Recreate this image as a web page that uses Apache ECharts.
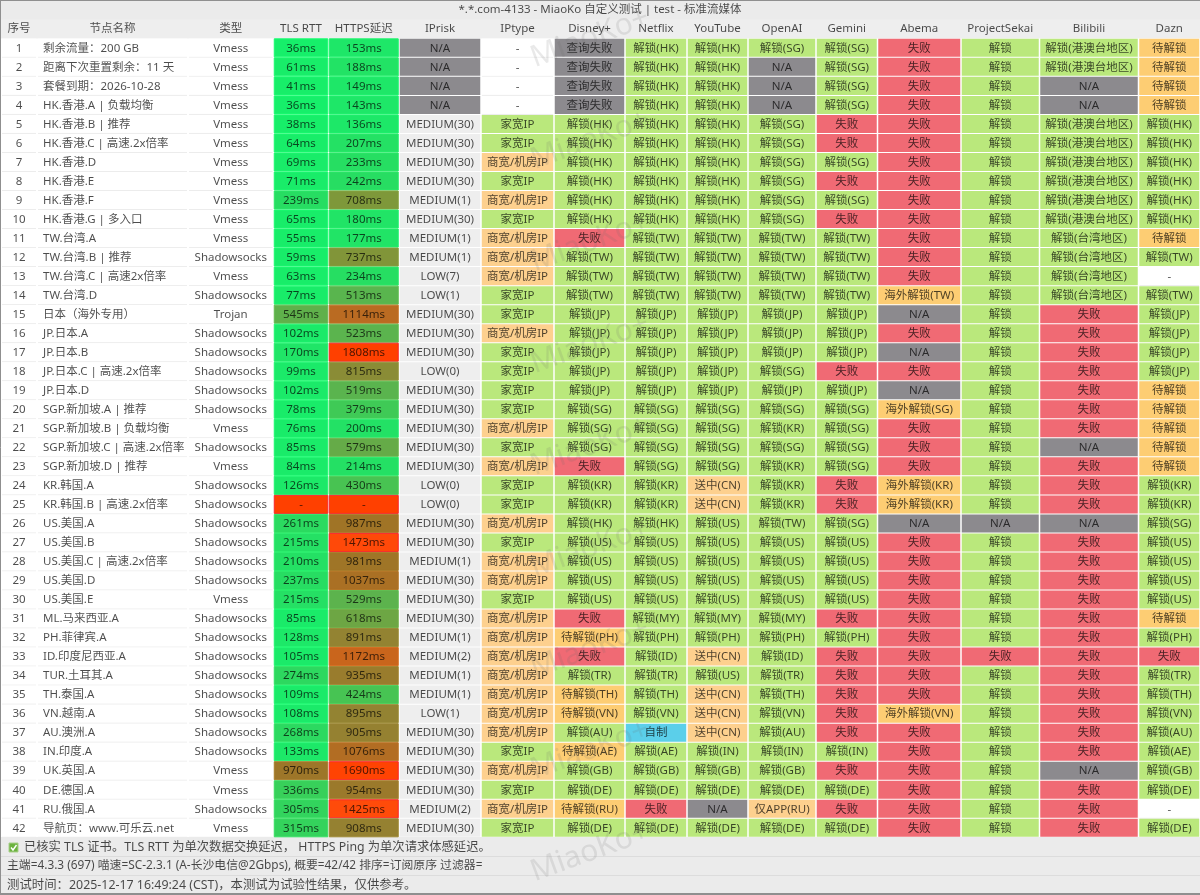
<!DOCTYPE html>
<html>
<head>
<meta charset="utf-8">
<title>MiaoKo</title>
<style>
html, body { margin: 0; padding: 0; background: #ebebeb; }
#box01 { width: 1200px; height: 895px; }
</style>
<script src="https://cdn.jsdelivr.net/npm/echarts@6/dist/echarts.min.js"></script>
</head>
<body>
<div id="box01"></div>
<script>
var titleText = '*.*.com-4133 - MiaoKo 自定义测试 | test - 标准流媒体';
var headers = ['序号', '节点名称', '类型', 'TLS RTT', 'HTTPS延迟', 'IPrisk', 'IPtype', 'Disney+', 'Netflix', 'YouTube', 'OpenAI', 'Gemini', 'Abema', 'ProjectSekai', 'Bilibili', 'Dazn'];
var rowNo = [1, 2, 3, 4, 5, 6, 7, 8, 9, 10, 11, 12, 13, 14, 15, 16, 17, 18, 19, 20, 21, 22, 23, 24, 25, 26, 27, 28, 29, 30, 31, 32, 33, 34, 35, 36, 37, 38, 39, 40, 41, 42];
var nodeNames = ['剩余流量：200 GB', '距离下次重置剩余：11 天', '套餐到期：2026-10-28', 'HK.香港.A | 负载均衡', 'HK.香港.B | 推荐', 'HK.香港.C | 高速.2x倍率', 'HK.香港.D', 'HK.香港.E', 'HK.香港.F', 'HK.香港.G | 多入口',
    'TW.台湾.A', 'TW.台湾.B | 推荐', 'TW.台湾.C | 高速2x倍率', 'TW.台湾.D', '日本（海外专用）', 'JP.日本.A', 'JP.日本.B', 'JP.日本.C | 高速.2x倍率', 'JP.日本.D', 'SGP.新加坡.A | 推荐',
    'SGP.新加坡.B | 负载均衡', 'SGP.新加坡.C | 高速.2x倍率', 'SGP.新加坡.D | 推荐', 'KR.韩国.A', 'KR.韩国.B | 高速.2x倍率', 'US.美国.A', 'US.美国.B', 'US.美国.C | 高速.2x倍率', 'US.美国.D', 'US.美国.E',
    'ML.马来西亚.A', 'PH.菲律宾.A', 'ID.印度尼西亚.A', 'TUR.土耳其.A', 'TH.泰国.A', 'VN.越南.A', 'AU.澳洲.A', 'IN.印度.A', 'UK.英国.A', 'DE.德国.A', 'RU.俄国.A', '导航页：www.可乐云.net'];
var nodeTypes = ['Vmess', 'Vmess', 'Vmess', 'Vmess', 'Vmess', 'Vmess', 'Vmess', 'Vmess', 'Vmess', 'Vmess', 'Vmess', 'Shadowsocks', 'Vmess', 'Shadowsocks', 'Trojan', 'Shadowsocks', 'Shadowsocks', 'Shadowsocks', 'Shadowsocks', 'Shadowsocks', 'Vmess',
    'Shadowsocks', 'Vmess', 'Shadowsocks', 'Shadowsocks', 'Shadowsocks', 'Shadowsocks', 'Shadowsocks', 'Shadowsocks', 'Vmess', 'Shadowsocks', 'Shadowsocks', 'Shadowsocks', 'Shadowsocks', 'Shadowsocks', 'Shadowsocks', 'Shadowsocks', 'Shadowsocks', 'Vmess', 'Vmess', 'Shadowsocks', 'Vmess'];
// 延迟，null 为未测出
var tlsRtt = [36, 61, 41, 36, 38, 64, 69, 71, 239, 65, 55, 59, 63, 77, 545, 102, 170, 99, 102, 78, 76, 85, 84, 126, null, 261, 215, 210, 237, 215, 85, 128, 105, 274, 109, 108, 268, 133, 970, 336, 305, 315];
var httpsDelay = [153, 188, 149, 143, 136, 207, 233, 242, 708, 180, 177, 737, 234, 513, 1114, 523, 1808, 815, 519, 379, 200, 579, 214, 430, null, 987, 1473, 981, 1037, 529, 618, 891, 1172, 935, 424, 895, 905, 1076, 1690, 954, 1425, 908];
var ipRisk = ['N/A', 'N/A', 'N/A', 'N/A', 'MEDIUM(30)', 'MEDIUM(30)', 'MEDIUM(30)', 'MEDIUM(30)', 'MEDIUM(1)', 'MEDIUM(30)', 'MEDIUM(1)', 'MEDIUM(1)', 'LOW(7)', 'LOW(1)', 'MEDIUM(30)', 'MEDIUM(30)', 'MEDIUM(30)', 'LOW(0)', 'MEDIUM(30)', 'MEDIUM(30)', 'MEDIUM(30)',
    'MEDIUM(30)', 'MEDIUM(30)', 'LOW(0)', 'LOW(0)', 'MEDIUM(30)', 'MEDIUM(30)', 'MEDIUM(1)', 'MEDIUM(30)', 'MEDIUM(30)', 'MEDIUM(30)', 'MEDIUM(1)', 'MEDIUM(2)', 'MEDIUM(1)', 'MEDIUM(1)', 'LOW(1)', 'MEDIUM(30)', 'MEDIUM(30)', 'MEDIUM(30)', 'MEDIUM(30)', 'MEDIUM(2)', 'MEDIUM(30)'];
var ipType = ['-', '-', '-', '-', '家宽IP', '家宽IP', '商宽/机房IP', '家宽IP', '商宽/机房IP', '家宽IP', '商宽/机房IP', '商宽/机房IP', '商宽/机房IP', '家宽IP', '家宽IP', '商宽/机房IP', '家宽IP', '家宽IP', '家宽IP', '家宽IP', '商宽/机房IP',
    '家宽IP', '商宽/机房IP', '家宽IP', '家宽IP', '商宽/机房IP', '家宽IP', '商宽/机房IP', '商宽/机房IP', '家宽IP', '商宽/机房IP', '商宽/机房IP', '商宽/机房IP', '商宽/机房IP', '商宽/机房IP', '商宽/机房IP', '商宽/机房IP', '家宽IP', '商宽/机房IP', '家宽IP', '商宽/机房IP', '家宽IP'];
var disney = ['查询失败', '查询失败', '查询失败', '查询失败', '解锁(HK)', '解锁(HK)', '解锁(HK)', '解锁(HK)', '解锁(HK)', '解锁(HK)', '失败', '解锁(TW)', '解锁(TW)', '解锁(TW)', '解锁(JP)', '解锁(JP)', '解锁(JP)', '解锁(JP)', '解锁(JP)', '解锁(SG)', '解锁(SG)',
    '解锁(SG)', '失败', '解锁(KR)', '解锁(KR)', '解锁(HK)', '解锁(US)', '解锁(US)', '解锁(US)', '解锁(US)', '失败', '待解锁(PH)', '失败', '解锁(TR)', '待解锁(TH)', '待解锁(VN)', '解锁(AU)', '待解锁(AE)', '解锁(GB)', '解锁(DE)', '待解锁(RU)', '解锁(DE)'];
var netflix = ['解锁(HK)', '解锁(HK)', '解锁(HK)', '解锁(HK)', '解锁(HK)', '解锁(HK)', '解锁(HK)', '解锁(HK)', '解锁(HK)', '解锁(HK)', '解锁(TW)', '解锁(TW)', '解锁(TW)', '解锁(TW)', '解锁(JP)', '解锁(JP)', '解锁(JP)', '解锁(JP)', '解锁(JP)', '解锁(SG)', '解锁(SG)',
    '解锁(SG)', '解锁(SG)', '解锁(KR)', '解锁(KR)', '解锁(HK)', '解锁(US)', '解锁(US)', '解锁(US)', '解锁(US)', '解锁(MY)', '解锁(PH)', '解锁(ID)', '解锁(TR)', '解锁(TH)', '解锁(VN)', '自制', '解锁(AE)', '解锁(GB)', '解锁(DE)', '失败', '解锁(DE)'];
var youtube = ['解锁(HK)', '解锁(HK)', '解锁(HK)', '解锁(HK)', '解锁(HK)', '解锁(HK)', '解锁(HK)', '解锁(HK)', '解锁(HK)', '解锁(HK)', '解锁(TW)', '解锁(TW)', '解锁(TW)', '解锁(TW)', '解锁(JP)', '解锁(JP)', '解锁(JP)', '解锁(JP)', '解锁(JP)', '解锁(SG)', '解锁(SG)',
    '解锁(SG)', '解锁(SG)', '送中(CN)', '送中(CN)', '解锁(US)', '解锁(US)', '解锁(US)', '解锁(US)', '解锁(US)', '解锁(MY)', '解锁(PH)', '送中(CN)', '解锁(US)', '送中(CN)', '送中(CN)', '送中(CN)', '解锁(IN)', '解锁(GB)', '解锁(DE)', 'N/A', '解锁(DE)'];
var openai = ['解锁(SG)', 'N/A', 'N/A', 'N/A', '解锁(SG)', '解锁(SG)', '解锁(SG)', '解锁(SG)', '解锁(SG)', '解锁(SG)', '解锁(TW)', '解锁(TW)', '解锁(TW)', '解锁(TW)', '解锁(JP)', '解锁(JP)', '解锁(JP)', '解锁(SG)', '解锁(JP)', '解锁(SG)', '解锁(KR)',
    '解锁(SG)', '解锁(KR)', '解锁(KR)', '解锁(KR)', '解锁(TW)', '解锁(US)', '解锁(US)', '解锁(US)', '解锁(US)', '解锁(MY)', '解锁(PH)', '解锁(ID)', '解锁(TR)', '解锁(TH)', '解锁(VN)', '解锁(AU)', '解锁(IN)', '解锁(GB)', '解锁(DE)', '仅APP(RU)', '解锁(DE)'];
var gemini = ['解锁(SG)', '解锁(SG)', '解锁(SG)', '解锁(SG)', '失败', '失败', '解锁(SG)', '失败', '解锁(SG)', '失败', '解锁(TW)', '解锁(TW)', '解锁(TW)', '解锁(TW)', '解锁(JP)', '解锁(JP)', '解锁(JP)', '失败', '解锁(JP)', '解锁(SG)', '解锁(SG)',
    '解锁(SG)', '解锁(SG)', '失败', '失败', '解锁(SG)', '解锁(US)', '解锁(US)', '解锁(US)', '解锁(US)', '失败', '解锁(PH)', '失败', '失败', '失败', '失败', '失败', '解锁(IN)', '失败', '解锁(DE)', '失败', '解锁(DE)'];
var abema = ['失败', '失败', '失败', '失败', '失败', '失败', '失败', '失败', '失败', '失败', '失败', '失败', '失败', '海外解锁(TW)', 'N/A', '失败', 'N/A', '失败', 'N/A', '海外解锁(SG)', '失败',
    '失败', '失败', '海外解锁(KR)', '海外解锁(KR)', 'N/A', '失败', '失败', '失败', '失败', '失败', '失败', '失败', '失败', '失败', '海外解锁(VN)', '失败', '失败', '失败', '失败', '失败', '失败'];
var sekai = ['解锁', '解锁', '解锁', '解锁', '解锁', '解锁', '解锁', '解锁', '解锁', '解锁', '解锁', '解锁', '解锁', '解锁', '解锁', '解锁', '解锁', '解锁', '解锁', '解锁', '解锁',
    '解锁', '解锁', '解锁', '解锁', 'N/A', '解锁', '解锁', '解锁', '解锁', '解锁', '解锁', '失败', '解锁', '解锁', '解锁', '解锁', '解锁', '解锁', '解锁', '解锁', '解锁'];
var bilibili = ['解锁(港澳台地区)', '解锁(港澳台地区)', 'N/A', 'N/A', '解锁(港澳台地区)', '解锁(港澳台地区)', '解锁(港澳台地区)', '解锁(港澳台地区)', '解锁(港澳台地区)', '解锁(港澳台地区)', '解锁(台湾地区)', '解锁(台湾地区)', '解锁(台湾地区)', '解锁(台湾地区)', '失败', '失败', '失败', '失败', '失败', '失败', '失败',
    'N/A', '失败', '失败', '失败', 'N/A', '失败', '失败', '失败', '失败', '失败', '失败', '失败', '失败', '失败', '失败', '失败', '失败', 'N/A', '失败', '失败', '失败'];
var dazn = ['待解锁', '待解锁', '待解锁', '待解锁', '解锁(HK)', '解锁(HK)', '解锁(HK)', '解锁(HK)', '解锁(HK)', '解锁(HK)', '待解锁', '解锁(TW)', '-', '解锁(TW)', '解锁(JP)', '解锁(JP)', '解锁(JP)', '解锁(JP)', '待解锁', '待解锁', '待解锁',
    '待解锁', '待解锁', '解锁(KR)', '解锁(KR)', '解锁(SG)', '解锁(US)', '解锁(US)', '解锁(US)', '解锁(US)', '待解锁', '解锁(PH)', '失败', '解锁(TR)', '解锁(TH)', '解锁(VN)', '解锁(AU)', '解锁(AE)', '解锁(GB)', '解锁(DE)', '-', '解锁(DE)'];
var footerCheck = '已核实 TLS 证书。TLS RTT 为单次数据交换延迟， HTTPS Ping 为单次请求体感延迟。';
var footerInfo = '主端=4.3.3 (697) 喵速=SC-2.3.1 (A-长沙电信@2Gbps), 概要=42/42 排序=订阅原序 过滤器=';
var footerTime = '测试时间：2025-12-17 16:49:24 (CST)，本测试为试验性结果，仅供参考。';

var FONT = '"Noto Sans","Noto Sans CJK SC",sans-serif';
var TEXT_COLOR = 'rgba(0,0,0,0.7)';
var CELL_FONT = '11.5px ' + FONT;
var columns = [rowNo, nodeNames, nodeTypes, tlsRtt, httpsDelay, ipRisk, ipType, disney, netflix, youtube, openai, gemini, abema, sekai, bilibili, dazn];
// 列的分界，单位就是 x 轴
var colEdges = [1, 37, 188, 273.5, 328.5, 399, 481, 554, 625, 687, 748, 816, 877.5, 961, 1039.5, 1138.5, 1200];

// 延迟色阶
var latencyStops = [[0, '#14f16a'], [150, '#1ee768'], [240, '#27dd62'], [430, '#48c352'], [520, '#5ab44e'], [710, '#7e983a'], [900, '#948232'], [990, '#a07326'], [1110, '#b96b22'], [1180, '#cb641b'], [1420, '#ff4b0a'], [1800, '#ff4000']];

function latencyColor(v) {
    if (v == null) {
        return '#ff4000';
    }
    for (var i = 1; i < latencyStops.length; i++) {
        if (v <= latencyStops[i][0]) {
            var a = latencyStops[i - 1], b = latencyStops[i];
            return echarts.color.lerp((v - a[0]) / (b[0] - a[0]), [a[1], b[1]]);
        }
    }
    return '#ff4000';
}

function statusColor(s) {
    if (s == '-') return '#ffffff';
    if (s == 'N/A' || s == '查询失败') return '#8c8a8e';
    if (s == '失败') return '#f06a74';
    if (s == '自制') return '#5bcfea';
    if (s.indexOf('MEDIUM') == 0 || s.indexOf('LOW') == 0) return '#eeeeee';
    if (s.indexOf('解锁') == 0 || s == '家宽IP') return '#bae87c';
    if (s.indexOf('待解锁') == 0 || s.indexOf('海外解锁') == 0) return '#fdcd73';
    return '#fdd08e';    //商宽、送中、仅APP
}

function cellText(col, row) {
    var v = columns[col][row];
    if (col == 3 || col == 4) {
        return v == null ? '-' : v + 'ms';
    }
    return String(v);
}

function renderCell(params, api) {
    var col = api.value(0);
    var row = api.value(1);
    var p0 = api.coord([colEdges[col], row]);
    var p1 = api.coord([colEdges[col + 1], row]);
    var h = api.size([0, 1])[1];
    var top = p0[1] - h / 2;
    var x0 = p0[0], x1 = p1[0];
    var children = [];

    // 第 0 行是表头
    if (row == 0) {
        children.push({
            type: 'text',
            style: {
                text: headers[col], x: (x0 + x1) / 2, y: p0[1], align: 'center', verticalAlign: 'middle',
                font: CELL_FONT, fill: TEXT_COLOR
            }
        });
        return { type: 'group', children: children };
    }

    var r = row - 1;
    var text = cellText(col, r);
    var isLatency = col == 3 || col == 4;
    var fill = col < 3 ? '#ffffff' : (isLatency ? latencyColor(columns[col][r]) : statusColor(text));
    var stroke = null;
    if (isLatency) {
        var v = columns[col][r];
        stroke = (v == null || v > 1400) ? '#f8262a' : echarts.color.lift(fill, -0.06);
    }

    children.push({
        type: 'rect',
        shape: { x: x0 + 0.75, y: top + 0.5, width: x1 - x0 - 1.5, height: h - 1 },
        style: { fill: fill, stroke: stroke, lineWidth: stroke ? 1 : 0 }
    });
    if (fill == '#ffffff') {
        // 白底单元格只留一条行线
        children.push({
            type: 'line',
            shape: { x1: x0 + 1, y1: top + h, x2: x1 - 1, y2: top + h },
            style: { stroke: '#ececec', lineWidth: 1 }
        });
    }
    children.push({
        type: 'text',
        style: {
            text: text, x: col == 1 ? x0 + 6 : (x0 + x1) / 2, y: p0[1] + 0.5,
            align: col == 1 ? 'left' : 'center', verticalAlign: 'middle',
            font: CELL_FONT, fill: TEXT_COLOR
        }
    });
    return { type: 'group', children: children };
}

// 表头占一行，其余每行一个节点
var rowCategories = ['header'].concat(rowNo);
var cells = [];
for (var c = 0; c < columns.length; c++) {
    cells.push([c, 0]);
    for (var r = 0; r < rowNo.length; r++) {
        cells.push([c, r + 1]);
    }
}

// 水印
var watermarkY = [38, 140, 242, 344, 446, 548, 649, 750, 852];
var watermarks = watermarkY.map(function (y) {
    return {
        type: 'text', x: 590, y: y, rotation: 0.35, z: 100, silent: true,
        style: { text: 'MiaoKo+', align: 'center', verticalAlign: 'middle', font: '30px ' + FONT, fill: 'rgba(110,110,110,0.15)' }
    };
});

function footLine(text, x, y, size) {
    return {
        type: 'text', x: x, y: y, z: 10,
        style: { text: text, verticalAlign: 'middle', font: size + 'px ' + FONT, fill: TEXT_COLOR }
    };
}

function hLine(y, color, width) {
    return {
        type: 'line', z: 20,
        shape: { x1: 0, y1: y, x2: 1200, y2: y },
        style: { stroke: color, lineWidth: width }
    };
}

var myChart = echarts.init(document.getElementById('box01'));
myChart.setOption({
    animation: false,
    backgroundColor: '#ebebeb',
    title: {
        text: titleText, left: 'center', top: 3, padding: 0,
        textStyle: { fontFamily: FONT, fontSize: 11.5, fontWeight: 'normal', color: TEXT_COLOR, lineHeight: 14 }
    },
    grid: { left: 0, top: 19.3, width: 1200, height: 818 },
    xAxis: { type: 'value', min: 0, max: 1200, show: false },
    yAxis: { type: 'category', inverse: true, show: false, data: rowCategories },
    graphic: [
        {
            type: 'rect', z: -1,
            shape: { x: 1, y: 38.3, width: 1199, height: 798.7 },
            style: { fill: '#ffffff' }
        },
        {
            type: 'rect', z: -1,
            shape: { x: 1, y: 19.3, width: 1199, height: 19 },
            style: { fill: '#eeeeee' }
        },
        hLine(856.5, '#dcdcdc', 1),
        hLine(875.5, '#dcdcdc', 1),
        hLine(0.5, '#8f8f8f', 1),
        hLine(894, '#8f8f8f', 2),
        {
            type: 'line', z: 20,
            shape: { x1: 0.5, y1: 0, x2: 0.5, y2: 895 },
            style: { stroke: '#8f8f8f', lineWidth: 1 }
        },
        {
            type: 'rect', z: 10,
            shape: { x: 9, y: 843, width: 9, height: 9 },
            style: { fill: '#6cb33f', stroke: '#a9cf8c', lineWidth: 1 }
        },
        {
            type: 'polyline', z: 11,
            shape: { points: [[11, 847.5], [13, 850], [16.5, 845]] },
            style: { stroke: '#ffffff', lineWidth: 1.4, fill: null }
        },
        footLine(footerCheck, 24, 847, 12.3),
        footLine(footerInfo, 7, 866, 11.85),
        footLine(footerTime, 7, 885, 12.4)
    ].concat(watermarks),
    series: [{
        type: 'custom',
        coordinateSystem: 'cartesian2d',
        renderItem: renderCell,
        encode: { x: 0, y: 1 },
        silent: true,
        data: cells
    }]
});
</script>
</body>
</html>
